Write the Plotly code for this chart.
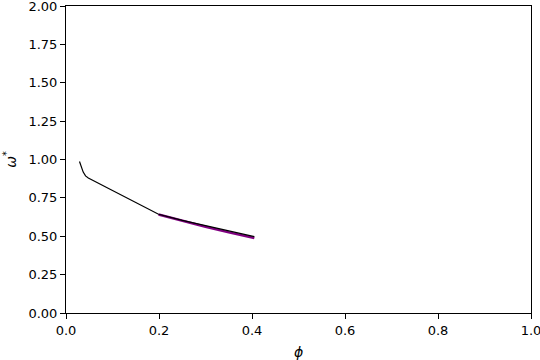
import plotly.graph_objects as go

phi_black = [0.029, 0.033, 0.037, 0.042, 0.048, 0.10, 0.15, 0.199, 0.25, 0.30, 0.35, 0.405]
omega_black = [0.987, 0.955, 0.918, 0.893, 0.879, 0.798, 0.720, 0.643, 0.603, 0.568, 0.533, 0.497]

phi_purple = [0.199, 0.25, 0.30, 0.35, 0.405]
omega_purple = [0.642, 0.600, 0.562, 0.525, 0.488]

x_ticks = [0.0, 0.2, 0.4, 0.6, 0.8, 1.0]
y_ticks = [0.0, 0.25, 0.5, 0.75, 1.0, 1.25, 1.5, 1.75, 2.0]

fig = go.Figure()
fig.add_trace(go.Scatter(x=phi_purple, y=omega_purple, mode="lines",
                         line=dict(color="#800080", width=2.5), showlegend=False))
fig.add_trace(go.Scatter(x=phi_black, y=omega_black, mode="lines",
                         line=dict(color="black", width=1.2), showlegend=False))

axis_common = dict(showgrid=False, zeroline=False, showline=True, linecolor="black",
                   linewidth=1, mirror=True, ticks="outside", ticklen=5, tickwidth=1,
                   tickcolor="black", ticklabeloverflow="allow", automargin=False,
                   tickfont=dict(family="DejaVu Sans", size=13, color="black"))

fig.update_xaxes(range=[0, 1], tickvals=x_ticks, ticktext=[f"{v:.1f}" for v in x_ticks],
                 title=dict(text="<i>ϕ</i>", font=dict(family="DejaVu Sans", size=14, color="black"), standoff=10),
                 **axis_common)
fig.update_yaxes(range=[0, 2], tickvals=y_ticks, ticktext=[f"{v:.2f}" for v in y_ticks],
                 title=dict(text="<i>ω</i><sup>*</sup>", font=dict(family="DejaVu Sans", size=14, color="black"), standoff=8),
                 **axis_common)

fig.update_layout(width=540, height=360, margin=dict(l=66, r=9, t=6, b=47),
                  plot_bgcolor="white", paper_bgcolor="white")

fig.write_html("out.html")
